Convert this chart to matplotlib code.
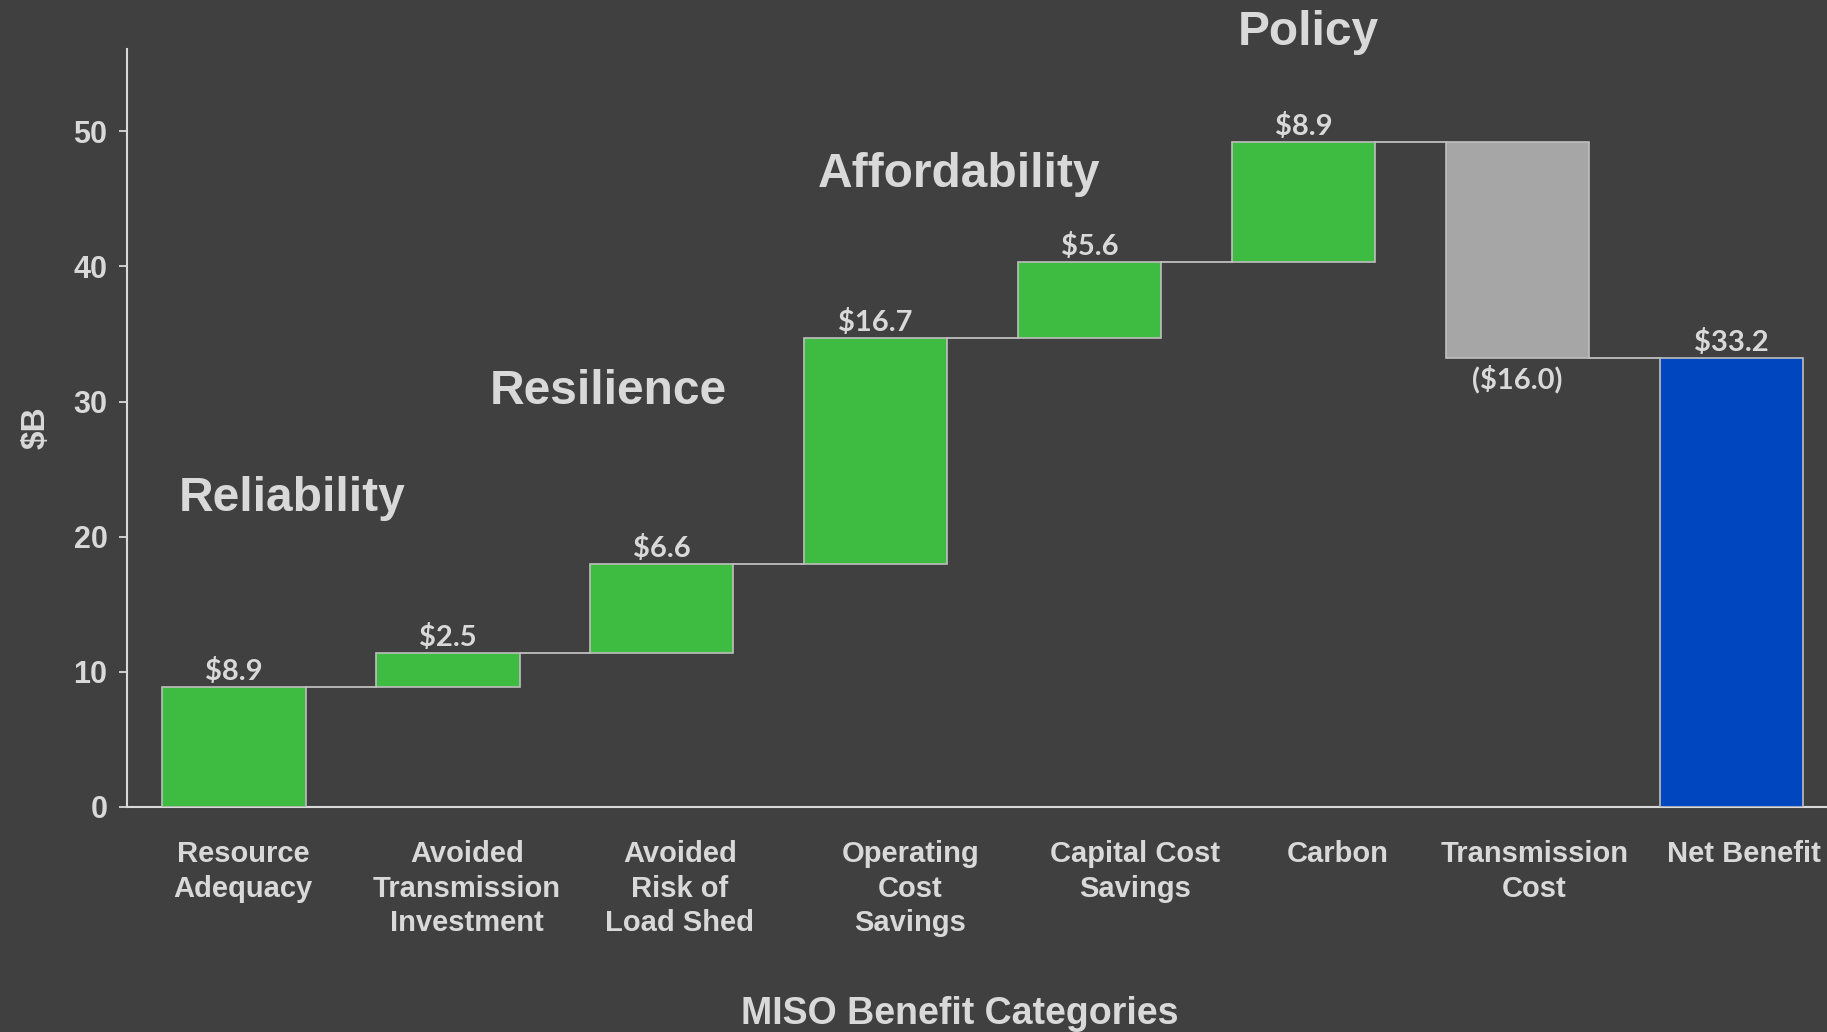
import numpy as np
import matplotlib
matplotlib.use("Agg")
import matplotlib.pyplot as plt

# data ($B)
categories = ["Resource\nAdequacy", "Avoided\nTransmission\nInvestment", "Avoided\nRisk of\nLoad Shed",
              "Operating\nCost\nSavings", "Capital Cost\nSavings", "Carbon", "Transmission\nCost", "Net Benefit"]
values = [8.9, 2.5, 6.6, 16.7, 5.6, 8.9, -16.0, 33.2]
kinds = ["benefit"] * 6 + ["cost", "total"]
value_labels = ["$8.9", "$2.5", "$6.6", "$16.7", "$5.6", "$8.9", "($16.0)", "$33.2"]
yticks = [0, 10, 20, 30, 40, 50]

group_names = ["Reliability", "Resilience", "Affordability", "Policy"]

# layout: where the text boxes sit (data coords)
group_pos = [(0.27, 22.85), (1.75, 30.75), (3.39, 46.8), (5.02, 57.3)]
label_x = [0.042, 1.090, 2.085, 3.163, 4.211, 5.158, 6.078, 7.059]

BG = "#404040"
TXT = "#D9D9D9"
EDGE = "#BFBFBF"
colors = {"benefit": "#3DBC41", "cost": "#A6A6A6", "total": "#0046BE"}

plt.rcParams['font.family'] = ['Liberation Sans', 'DejaVu Sans']

fig = plt.figure(figsize=(18.27, 10.32), dpi=100, facecolor=BG)
ax = fig.add_axes([0.0695, 0.2183, 0.9305, 0.7342], facecolor=BG)

x = np.arange(len(values))
width = 0.67

# waterfall bottoms / heights
bottoms, heights, levels = [], [], []
cum = 0.0
for v, k in zip(values, kinds):
    if k == "total":
        bottoms.append(0.0)
        heights.append(v)
        cum = v
    elif v >= 0:
        bottoms.append(cum)
        heights.append(v)
        cum += v
    else:
        bottoms.append(cum + v)
        heights.append(-v)
        cum += v
    levels.append(cum)

ax.bar(x, heights, bottom=bottoms, width=width,
       color=[colors[k] for k in kinds], edgecolor=EDGE, linewidth=1.2, zorder=3)

# connector lines
for i in range(len(values) - 1):
    ax.plot([x[i] + width / 2, x[i + 1] - width / 2], [levels[i], levels[i]],
            color=EDGE, lw=1.3, zorder=2)

# value labels
for i, (lab, v) in enumerate(zip(value_labels, values)):
    if v >= 0:
        top = bottoms[i] + heights[i]
        ax.annotate(lab, (x[i], top), xytext=(0, 5), textcoords="offset points",
                    ha="center", va="baseline", fontsize=21, fontweight="bold",
                    color=TXT, family=["Lato", "DejaVu Sans"])
    else:
        ax.annotate(lab, (x[i], bottoms[i]), xytext=(0, -4.5), textcoords="offset points",
                    ha="center", va="top", fontsize=21, fontweight="bold",
                    color=TXT, family=["Lato", "DejaVu Sans"])

# group headings
for name, (gx, gy) in zip(group_names, group_pos):
    ax.text(gx, gy, name, ha="center", va="center", fontsize=34.5, fontweight="bold",
            color=TXT, clip_on=False)

# category labels (text boxes sit a bit off the bar centres, as in the original)
ymin = 0
for lx, lab in zip(label_x, categories):
    ax.annotate(lab, (lx, ymin), xytext=(0, -24), textcoords="offset points",
                ha="center", va="top", fontsize=21, fontweight="bold", color=TXT,
                linespacing=1.3, annotation_clip=False)

ax.set_xlim(-0.5, 7.447)
ax.set_ylim(0, 56.1)
ax.set_yticks(yticks)
ax.set_xticks([])
ax.tick_params(axis="y", length=6, width=1.3, color=TXT, labelcolor=TXT, labelsize=22, pad=8)
for t in ax.get_yticklabels():
    t.set_fontweight("bold")

for s in ["top", "right"]:
    ax.spines[s].set_visible(False)
for s in ["left", "bottom"]:
    ax.spines[s].set_color(TXT)
    ax.spines[s].set_linewidth(1.5)

fig.text(960 / 1827, 1 - 1014 / 1032, "MISO Benefit Categories", ha="center", va="center",
         fontsize=27, fontweight="bold", color=TXT)
fig.text(36 / 1827, 1 - 428 / 1032, "$B", ha="center", va="center", rotation=90,
         fontsize=24, fontweight="bold", color=TXT)

fig.savefig("out.png", dpi=100, facecolor=BG)
